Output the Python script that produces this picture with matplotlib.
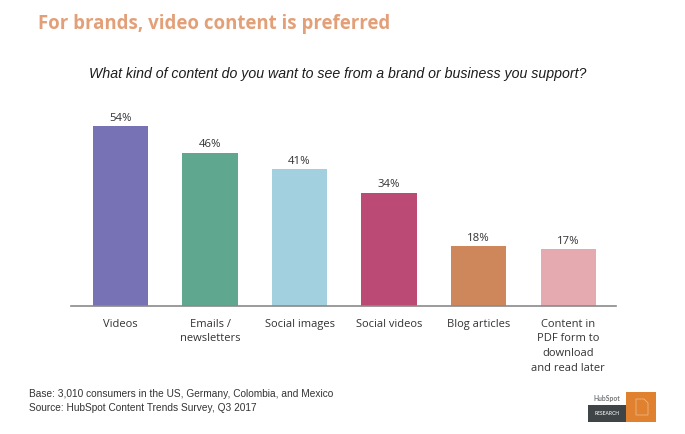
import matplotlib
matplotlib.use("Agg")
import matplotlib.pyplot as plt
from matplotlib.patches import Rectangle, Polygon

categories = ["Videos", "Emails /\nnewsletters", "Social images", "Social videos",
              "Blog articles", "Content in\nPDF form to\ndownload\nand read later"]
values = [54, 46, 41, 34, 18, 17]
colors = ["#7672B5", "#5FA78F", "#A2D0DE", "#BB4B75", "#CE875A", "#E5A9B0"]

W, H = 685, 435
fig = plt.figure(figsize=(W / 100, H / 100), dpi=100, facecolor="white")


def px_text(x, y, s, **kw):
    """Place text using pixel coordinates measured from the top left."""
    return fig.text(x / W, 1 - y / H, s, **kw)


def px_rect(x0, y0, x1, y1, **kw):
    fig.add_artist(Rectangle((x0 / W, 1 - y1 / H), (x1 - x0) / W, (y1 - y0) / H,
                             transform=fig.transFigure, **kw))


px_text(38, 23.5, "For brands, video content is preferred", family="Open Sans", weight="bold",
        fontsize=13.45, color="#E3A078", va="center", ha="left")
px_text(337.5, 74, "What kind of content do you want to see from a brand or business you support?",
        family="Liberation Sans", style="italic", fontsize=10.16, color="#1c1c1c",
        va="center", ha="center")

# Bar chart
ax = fig.add_axes([71 / W, 1 - 307 / H, (616 - 71) / W, 200 / H])
x = list(range(len(values)))
ax.bar(x, values, width=0.615, color=colors, linewidth=0)
ax.set_xlim(-0.553, 5.536)
ax.set_ylim(0, 60)
ax.set_yticks([])
ax.set_xticks(x)
ax.set_xticklabels(categories, family="Open Sans", fontsize=8.0, color="#333333",
                   linespacing=1.45, va="top")
ax.tick_params(axis="x", length=0, pad=8.5)
for side in ("top", "left", "right"):
    ax.spines[side].set_visible(False)
ax.spines["bottom"].set_color("#8a8a8a")
ax.spines["bottom"].set_linewidth(1.2)
ax.patch.set_alpha(0)
for xi, v in zip(x, values):
    ax.annotate(f"{v}%", (xi, v), xytext=(0, 2.4), textcoords="offset points",
                ha="center", va="bottom", family="Open Sans", fontsize=8.2, color="#333333")

# Footnote
px_text(29, 401, "Base: 3,010 consumers in the US, Germany, Colombia, and Mexico\n"
        "Source: HubSpot Content Trends Survey, Q3 2017", family="Liberation Sans",
        fontsize=7.3, color="#333333", va="center", ha="left", linespacing=1.38)

# Research badge
px_text(607, 399, "HubSpot", family="Lato", weight="bold", fontsize=4.9, color="#77787a",
        va="center", ha="center")
px_rect(588, 405.5, 626, 423, color="#3F4547", linewidth=0)
px_text(607, 414, "RESEARCH", family="Lato", weight="bold", fontsize=3.6, color="#d8d8d8",
        va="center", ha="center")
px_rect(626, 393, 656, 423, color="#E0812F", linewidth=0)
fig.add_artist(Polygon([(636 / W, 1 - 400 / H), (644 / W, 1 - 400 / H), (648 / W, 1 - 404 / H),
                        (648 / W, 1 - 416 / H), (636 / W, 1 - 416 / H)], closed=True,
                       fill=False, edgecolor="#EDB684", linewidth=0.6,
                       transform=fig.transFigure))

fig.savefig("out.png", dpi=100)
